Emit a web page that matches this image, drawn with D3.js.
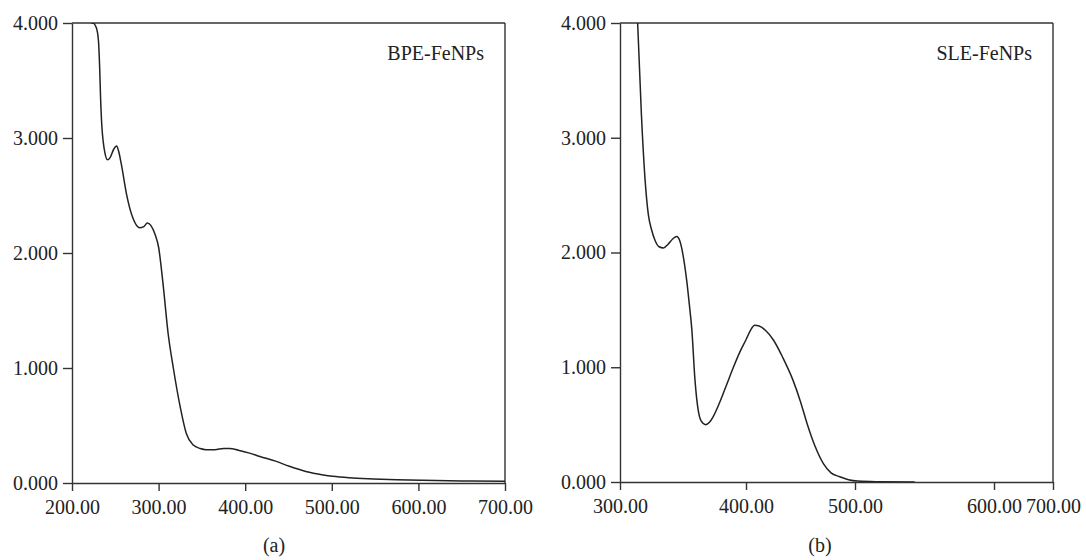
<!DOCTYPE html>
<html>
<head>
<meta charset="utf-8">
<script src="https://cdn.jsdelivr.net/npm/d3@7"></script>
<style>
  html, body { margin: 0; padding: 0; background: #fff; }
  svg text { font-family: "Liberation Serif", "DejaVu Serif", serif; fill: #222; }
</style>
</head>
<body>
<svg id="chart" width="1086" height="560"></svg>
<script>
// ---- Data ----
const bpeWavelength = [222, 224, 228, 230.5, 232, 233, 234.5, 236, 238, 241, 244, 248, 251.5, 254, 257, 263, 270, 278, 283, 287, 291, 296, 300, 305, 311, 317, 325, 332, 340, 348, 355, 365, 375, 382, 392, 405, 417, 435, 451, 470, 490, 501, 520, 548, 575, 605, 650, 700];
const bpeAbsorbance = [4.0, 4.0, 3.96, 3.85, 3.6, 3.35, 3.1, 2.97, 2.87, 2.81, 2.83, 2.90, 2.93, 2.88, 2.77, 2.51, 2.31, 2.22, 2.23, 2.26, 2.24, 2.16, 2.05, 1.74, 1.30, 1.0, 0.66, 0.43, 0.33, 0.30, 0.29, 0.29, 0.30, 0.30, 0.285, 0.26, 0.23, 0.19, 0.145, 0.10, 0.07, 0.058, 0.045, 0.035, 0.028, 0.023, 0.018, 0.015];

const sleWavelength = [314, 317, 320, 322.5, 325, 328, 331, 334.5, 338, 342, 345, 347.5, 350, 353, 355, 357, 359.5, 362, 364.5, 368, 371, 374, 379, 384.7, 390, 395, 400, 404, 408, 412, 418, 425, 434, 443, 450, 456, 463, 471, 478, 486, 494, 502, 515, 543];
const sleAbsorbance = [4.0, 3.2, 2.62, 2.33, 2.2, 2.10, 2.05, 2.04, 2.07, 2.12, 2.14, 2.1, 1.98, 1.75, 1.55, 1.33, 0.89, 0.63, 0.53, 0.50, 0.52, 0.57, 0.69, 0.85, 1.0, 1.13, 1.24, 1.32, 1.365, 1.36, 1.32, 1.24, 1.08, 0.89, 0.70, 0.51, 0.32, 0.16, 0.08, 0.046, 0.02, 0.008, 0.003, 0.001];

const xTicksA = [200, 300, 400, 500, 600, 700];
const xTicksB = [300, 400, 500, 600, 700];
const yTicks = [0, 1, 2, 3, 4];
const labelA = "BPE-FeNPs";
const labelB = "SLE-FeNPs";
const captionA = "(a)";
const captionB = "(b)";

// ---- Drawing ----
const svg = d3.select("#chart");
const FONT = 20;
const ink = "#222";

function panel(cfg) {
  const g = svg.append("g");
  const x = cfg.x, y = cfg.y;
  const [x0, x1] = [x.range()[0], x.range()[x.range().length - 1]];
  const [y0, y1] = y.range();

  const clipId = "clip-" + cfg.id;
  svg.append("clipPath").attr("id", clipId).append("rect")
    .attr("x", x0).attr("y", y1).attr("width", x1 - x0).attr("height", y0 - y1);

  // frame top & right
  g.append("line").attr("x1", x0).attr("x2", x1).attr("y1", y1).attr("y2", y1)
    .attr("stroke", "#333").attr("stroke-width", 1.4);
  g.append("line").attr("x1", x1).attr("x2", x1).attr("y1", y1).attr("y2", y0)
    .attr("stroke", "#333").attr("stroke-width", 1.4);

  const xa = g.append("g").attr("transform", `translate(0,${y0})`)
    .call(d3.axisBottom(x).tickValues(cfg.xTicks).tickFormat(d3.format(".2f"))
      .tickSize(8).tickSizeOuter(0).tickPadding(9));
  const ya = g.append("g").attr("transform", `translate(${x0},0)`)
    .call(d3.axisLeft(y).tickValues(yTicks).tickFormat(d3.format(".3f"))
      .tickSize(9).tickSizeOuter(0).tickPadding(5));
  [xa, ya].forEach(a => {
    a.select(".domain").attr("stroke", "#333").attr("stroke-width", 1.4);
    a.selectAll(".tick line").attr("stroke", "#333").attr("stroke-width", 1.4);
    a.selectAll(".tick text").attr("font-size", FONT).attr("fill", ink)
      .style("font-family", '"Liberation Serif", serif');
  });

  const line = d3.line().x(d => x(d[0])).y(d => y(d[1])).curve(d3.curveMonotoneX);
  g.append("path").datum(d3.zip(cfg.w, cfg.v))
    .attr("clip-path", `url(#${clipId})`)
    .attr("fill", "none").attr("stroke", ink).attr("stroke-width", 1.5)
    .attr("d", line);

  g.append("text").attr("x", x1 - 21).attr("y", 60).attr("text-anchor", "end")
    .attr("font-size", FONT).text(cfg.label);

  g.append("text").attr("x", cfg.captionX).attr("y", 552).attr("text-anchor", "middle")
    .attr("font-size", FONT).text(cfg.caption);
}

panel({
  id: "a",
  x: d3.scaleLinear().domain([200, 700]).range([72, 505]),
  y: d3.scaleLinear().domain([0, 4]).range([483, 23]),
  xTicks: xTicksA,
  w: bpeWavelength, v: bpeAbsorbance,
  label: labelA, caption: captionA, captionX: 274
});

panel({
  id: "b",
  x: d3.scaleLinear().domain([300, 400, 500, 600, 700]).range([620, 746, 855, 994, 1053]),
  y: d3.scaleLinear().domain([0, 4]).range([482, 23]),
  xTicks: xTicksB,
  w: sleWavelength, v: sleAbsorbance,
  label: labelB, caption: captionB, captionX: 820
});
</script>
</body>
</html>
